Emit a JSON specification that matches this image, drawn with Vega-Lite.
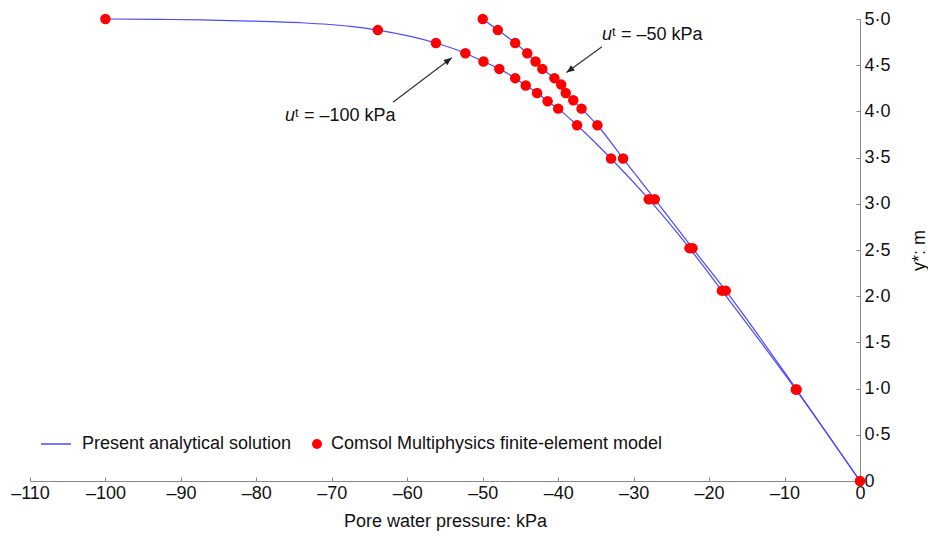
{
  "$schema": "https://vega.github.io/schema/vega-lite/v6.json",
  "width": 830,
  "height": 462,
  "autosize": {"type": "none"},
  "padding": {"left": 30, "top": 19, "right": 68, "bottom": 56},
  "background": "white",
  "config": {
    "view": {"stroke": null},
    "font": "Liberation Sans",
    "axis": {"grid": false, "domainColor": "#8a8a8a", "tickColor": "#8a8a8a", "labelColor": "#111111", "titleColor": "#111111", "labelFontSize": 18, "titleFontSize": 18, "titleFontWeight": "normal", "labelFont": "Liberation Sans", "titleFont": "Liberation Sans"},
    "legend": {"labelFontSize": 18, "labelColor": "#111111", "labelFont": "Liberation Sans", "padding": 0, "labelLimit": 600}
  },
  "datasets": {
    "analytic": [
      {"curve": "-100", "p": -100, "y": 5.0},
      {"curve": "-100", "p": -93, "y": 4.996},
      {"curve": "-100", "p": -87.4, "y": 4.99},
      {"curve": "-100", "p": -80.8, "y": 4.978},
      {"curve": "-100", "p": -74.2, "y": 4.96},
      {"curve": "-100", "p": -67.5, "y": 4.92},
      {"curve": "-100", "p": -63.9, "y": 4.88},
      {"curve": "-100", "p": -56.2, "y": 4.74},
      {"curve": "-100", "p": -52.3, "y": 4.63},
      {"curve": "-100", "p": -49.9, "y": 4.54},
      {"curve": "-100", "p": -47.8, "y": 4.46},
      {"curve": "-100", "p": -45.7, "y": 4.36},
      {"curve": "-100", "p": -44.3, "y": 4.28},
      {"curve": "-100", "p": -42.8, "y": 4.2},
      {"curve": "-100", "p": -41.4, "y": 4.11},
      {"curve": "-100", "p": -40.0, "y": 4.03},
      {"curve": "-100", "p": -37.5, "y": 3.85},
      {"curve": "-100", "p": -33.0, "y": 3.49},
      {"curve": "-100", "p": -28.0, "y": 3.05},
      {"curve": "-100", "p": -22.6, "y": 2.52},
      {"curve": "-100", "p": -18.3, "y": 2.06},
      {"curve": "-100", "p": -8.5, "y": 0.99},
      {"curve": "-100", "p": 0, "y": 0},
      {"curve": "-50", "p": -50, "y": 5.0},
      {"curve": "-50", "p": -48.0, "y": 4.88},
      {"curve": "-50", "p": -45.7, "y": 4.74},
      {"curve": "-50", "p": -44.1, "y": 4.63},
      {"curve": "-50", "p": -43.0, "y": 4.54},
      {"curve": "-50", "p": -42.1, "y": 4.46},
      {"curve": "-50", "p": -40.5, "y": 4.36},
      {"curve": "-50", "p": -39.6, "y": 4.29},
      {"curve": "-50", "p": -39.0, "y": 4.2},
      {"curve": "-50", "p": -38.0, "y": 4.12},
      {"curve": "-50", "p": -36.9, "y": 4.03},
      {"curve": "-50", "p": -34.8, "y": 3.85},
      {"curve": "-50", "p": -31.4, "y": 3.49},
      {"curve": "-50", "p": -27.2, "y": 3.05},
      {"curve": "-50", "p": -22.2, "y": 2.52},
      {"curve": "-50", "p": -17.8, "y": 2.06},
      {"curve": "-50", "p": -8.4, "y": 0.99},
      {"curve": "-50", "p": 0, "y": 0}
    ],
    "fe": [
      {"curve": "-100", "p": -100, "y": 5.0},
      {"curve": "-100", "p": -63.9, "y": 4.88},
      {"curve": "-100", "p": -56.2, "y": 4.74},
      {"curve": "-100", "p": -52.3, "y": 4.63},
      {"curve": "-100", "p": -49.9, "y": 4.54},
      {"curve": "-100", "p": -47.8, "y": 4.46},
      {"curve": "-100", "p": -45.7, "y": 4.36},
      {"curve": "-100", "p": -44.3, "y": 4.28},
      {"curve": "-100", "p": -42.8, "y": 4.2},
      {"curve": "-100", "p": -41.4, "y": 4.11},
      {"curve": "-100", "p": -40.0, "y": 4.03},
      {"curve": "-100", "p": -37.5, "y": 3.85},
      {"curve": "-100", "p": -33.0, "y": 3.49},
      {"curve": "-100", "p": -28.0, "y": 3.05},
      {"curve": "-100", "p": -22.6, "y": 2.52},
      {"curve": "-100", "p": -18.3, "y": 2.06},
      {"curve": "-100", "p": -8.5, "y": 0.99},
      {"curve": "-100", "p": 0, "y": 0},
      {"curve": "-50", "p": -50, "y": 5.0},
      {"curve": "-50", "p": -48.0, "y": 4.88},
      {"curve": "-50", "p": -45.7, "y": 4.74},
      {"curve": "-50", "p": -44.1, "y": 4.63},
      {"curve": "-50", "p": -43.0, "y": 4.54},
      {"curve": "-50", "p": -42.1, "y": 4.46},
      {"curve": "-50", "p": -40.5, "y": 4.36},
      {"curve": "-50", "p": -39.6, "y": 4.29},
      {"curve": "-50", "p": -39.0, "y": 4.2},
      {"curve": "-50", "p": -38.0, "y": 4.12},
      {"curve": "-50", "p": -36.9, "y": 4.03},
      {"curve": "-50", "p": -34.8, "y": 3.85},
      {"curve": "-50", "p": -31.4, "y": 3.49},
      {"curve": "-50", "p": -27.2, "y": 3.05},
      {"curve": "-50", "p": -22.2, "y": 2.52},
      {"curve": "-50", "p": -17.8, "y": 2.06},
      {"curve": "-50", "p": -8.4, "y": 0.99}
    ],
    "notes": [
      {"p": -76.2, "y": 3.9, "sym": "u", "rest": "ᵗ = –100 kPa"},
      {"p": -34.2, "y": 4.77, "sym": "u", "rest": "ᵗ = –50 kPa"}
    ],
    "arrows": [
      {"p": -61.9, "y": 4.1, "p2": -54.1, "y2": 4.58},
      {"p": -34.2, "y": 4.7, "p2": -38.9, "y2": 4.42}
    ]
  },
  "layer": [
    {
      "data": {"name": "analytic"},
      "mark": {"type": "line", "interpolate": "monotone", "strokeWidth": 1.2},
      "encoding": {
        "x": {"field": "p", "type": "quantitative", "scale": {"domain": [-110, 0], "nice": false, "zero": false},
          "axis": {"orient": "bottom", "title": "Pore water pressure: kPa", "values": [-110,-100,-90,-80,-70,-60,-50,-40,-30,-20,-10,0], "tickSize": -4, "labelPadding": 7, "titlePadding": 10, "labelExpr": "datum.value < 0 ? '–' + abs(datum.value) : '0'", "labelFlush": false}},
        "y": {"field": "y", "type": "quantitative", "scale": {"domain": [0, 5], "nice": false, "zero": false},
          "axis": {"orient": "right", "title": "y*: m", "titleAngle": 270, "values": [0,0.5,1,1.5,2,2.5,3,3.5,4,4.5,5], "tickSize": -4, "labelPadding": 8, "titlePadding": 38, "labelExpr": "datum.value == 0 ? '0' : replace(format(datum.value, '.1f'), '.', '·')", "labelFlush": false}},
        "detail": {"field": "curve"},
        "stroke": {"datum": "Present analytical solution", "scale": {"range": ["#4a4aff"]},
          "legend": {"orient": "none", "legendX": 10, "legendY": 409, "title": null, "symbolType": "stroke", "symbolSize": 900, "symbolStrokeWidth": 1.5, "labelOffset": 10}}
      }
    },
    {
      "data": {"name": "fe"},
      "mark": {"type": "point", "filled": true, "size": 110, "opacity": 1},
      "encoding": {
        "x": {"field": "p", "type": "quantitative"},
        "y": {"field": "y", "type": "quantitative"},
        "fill": {"datum": "Comsol Multiphysics finite-element model", "scale": {"range": ["#ff0000"]},
          "legend": {"orient": "none", "legendX": 278, "legendY": 416, "title": null, "symbolType": "circle", "symbolSize": 100, "labelOffset": 5}}
      }
    },
    {
      "data": {"name": "arrows"},
      "mark": {"type": "rule", "color": "#333333", "strokeWidth": 1.2},
      "encoding": {
        "x": {"field": "p", "type": "quantitative"},
        "y": {"field": "y", "type": "quantitative"},
        "x2": {"field": "p2"},
        "y2": {"field": "y2"}
      }
    },
    {
      "data": {"name": "arrows"},
      "transform": [{"filter": "datum.p2 < -50"}],
      "mark": {"type": "point", "filled": true, "color": "#222222", "opacity": 1, "shape": "M0,0 L-0.4,1 L0.4,1 Z", "size": 256, "angle": 53.3},
      "encoding": {
        "x": {"field": "p2", "type": "quantitative"},
        "y": {"field": "y2", "type": "quantitative"}
      }
    },
    {
      "data": {"name": "arrows"},
      "transform": [{"filter": "datum.p2 > -50"}],
      "mark": {"type": "point", "filled": true, "color": "#222222", "opacity": 1, "shape": "M0,0 L-0.4,1 L0.4,1 Z", "size": 256, "angle": 233.4},
      "encoding": {
        "x": {"field": "p2", "type": "quantitative"},
        "y": {"field": "y2", "type": "quantitative"}
      }
    },
    {
      "data": {"name": "notes"},
      "mark": {"type": "text", "align": "left", "baseline": "alphabetic", "fontSize": 18, "fontStyle": "italic", "font": "Liberation Sans", "color": "#111111"},
      "encoding": {
        "x": {"field": "p", "type": "quantitative"},
        "y": {"field": "y", "type": "quantitative"},
        "text": {"field": "sym"}
      }
    },
    {
      "data": {"name": "notes"},
      "mark": {"type": "text", "align": "left", "baseline": "alphabetic", "fontSize": 18, "font": "Liberation Sans", "color": "#111111", "dx": 10},
      "encoding": {
        "x": {"field": "p", "type": "quantitative"},
        "y": {"field": "y", "type": "quantitative"},
        "text": {"field": "rest"}
      }
    }
  ]
}
